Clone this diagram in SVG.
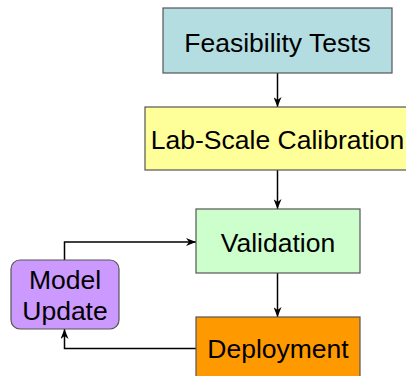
<svg xmlns="http://www.w3.org/2000/svg" width="406" height="376" viewBox="0 0 406 376">
  <defs>
    <marker id="arrow" viewBox="0 0 10 8" refX="10" refY="4" markerWidth="10" markerHeight="8" markerUnits="userSpaceOnUse" orient="auto">
      <path d="M0,0 L10,4 L0,8 L3,4 Z" fill="#000"/>
    </marker>
  </defs>
  <style>
    .box { stroke: #555; stroke-width: 1.2; }
    .label { font-family: "Liberation Sans", Arial, sans-serif; font-size: 26.5px; fill: #000; text-anchor: middle; }
    .edge { fill: none; stroke: #000; stroke-width: 1.5; marker-end: url(#arrow); }
  </style>
  <rect width="406" height="376" fill="#fff"/>

  <g id="connectors">
    <path class="edge" d="M277.5,73 V107"/>
    <path class="edge" d="M277.5,170 V209"/>
    <path class="edge" d="M277.5,273 V317"/>
    <path class="edge" d="M64.5,260 V242 H196"/>
    <path class="edge" d="M196,348.5 H64.5 V329"/>
  </g>

  <g id="feasibility">
    <rect class="box" x="163" y="8" width="229" height="65" fill="#b3dde0"/>
    <text class="label" x="277.5" y="52">Feasibility Tests</text>
  </g>

  <g id="calibration">
    <rect class="box" x="145" y="107" width="265" height="63" fill="#ffff99"/>
    <text class="label" x="277.5" y="149">Lab-Scale Calibration</text>
  </g>

  <g id="validation">
    <rect class="box" x="196" y="209" width="164" height="64" fill="#ccffcc"/>
    <text class="label" x="278" y="252">Validation</text>
  </g>

  <g id="deployment">
    <rect class="box" x="196" y="317" width="164" height="65" fill="#ff9900"/>
    <text class="label" x="278" y="358">Deployment</text>
  </g>

  <g id="model-update">
    <rect class="box" x="11" y="260" width="108" height="69" rx="9" ry="9" fill="#cc99ff"/>
    <text class="label" x="65" y="289">Model</text>
    <text class="label" x="65" y="320">Update</text>
  </g>
</svg>
